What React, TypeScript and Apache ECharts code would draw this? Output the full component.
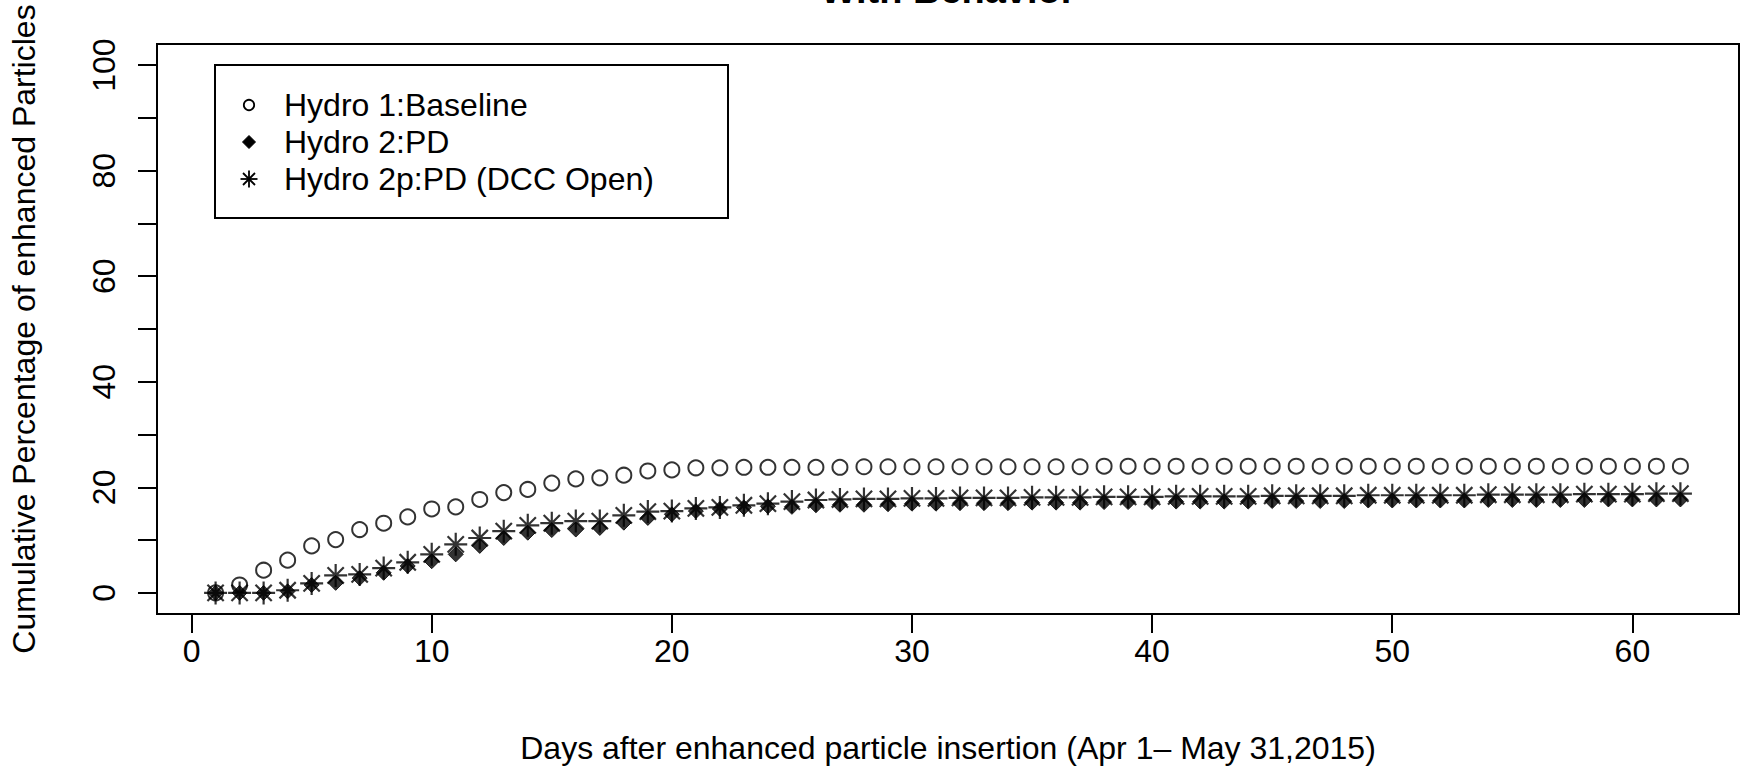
import React, { useEffect, useRef } from "react";
import * as echarts from "echarts";

const days = [
  1, 2, 3, 4, 5, 6, 7, 8, 9, 10, 11, 12, 13, 14, 15, 16, 17, 18, 19, 20, 21,
  22, 23, 24, 25, 26, 27, 28, 29, 30, 31, 32, 33, 34, 35, 36, 37, 38, 39, 40, 41,
  42, 43, 44, 45, 46, 47, 48, 49, 50, 51, 52, 53, 54, 55, 56, 57, 58, 59, 60, 61, 62,
];

const baseline = [
  0, 1.5, 4.3, 6.2, 8.9, 10.1, 12.0, 13.2, 14.4, 15.9,
  16.3, 17.7, 19.0, 19.6, 20.8, 21.6, 21.8, 22.3, 23.1, 23.3,
  23.7, 23.7, 23.8, 23.8, 23.8, 23.8, 23.8, 23.9, 23.9, 23.9,
  23.9, 23.9, 23.9, 23.9, 23.9, 23.9, 23.9, 24.0, 24.0, 24.0,
  24.0, 24.0, 24.0, 24.0, 24.0, 24.0, 24.0, 24.0, 24.0, 24.0,
  24.0, 24.0, 24.0, 24.0, 24.0, 24.0, 24.0, 24.0, 24.0, 24.0,
  24.0, 24.0,
];

const hydro2 = [
  0, 0, 0, 0.3, 1.5, 1.9, 2.8, 3.8, 5.1, 6.0,
  7.3, 8.9, 10.4, 11.4, 11.9, 12.0, 12.3, 13.3, 14.2, 14.9,
  15.5, 15.9, 16.2, 16.4, 16.3, 16.6, 16.7, 16.7, 16.8, 16.9,
  16.9, 17.0, 17.0, 17.0, 17.1, 17.1, 17.1, 17.2, 17.2, 17.2,
  17.3, 17.3, 17.3, 17.3, 17.4, 17.4, 17.4, 17.4, 17.5, 17.5,
  17.5, 17.5, 17.5, 17.6, 17.6, 17.6, 17.6, 17.6, 17.7, 17.7,
  17.7, 17.7,
];

const hydro2p = [
  0, 0, 0, 0.5, 1.8, 3.3, 3.5, 4.7, 5.8, 7.3,
  9.2, 10.4, 11.7, 12.8, 13.2, 13.6, 13.6, 14.7, 15.4, 15.5,
  16.0, 16.2, 16.6, 16.9, 17.3, 17.6, 17.7, 17.8, 17.8, 17.9,
  17.9, 18.0, 18.0, 18.0, 18.1, 18.1, 18.1, 18.2, 18.2, 18.2,
  18.3, 18.3, 18.3, 18.3, 18.4, 18.4, 18.4, 18.4, 18.5, 18.5,
  18.5, 18.5, 18.5, 18.6, 18.6, 18.6, 18.6, 18.7, 18.7, 18.7,
  18.8, 18.8,
];

const xTicks = [0, 10, 20, 30, 40, 50, 60];
const yTicks = [0, 10, 20, 30, 40, 50, 60, 70, 80, 90, 100];
const yLabels = [0, 20, 40, 60, 80, 100];
const seriesNames = ["Hydro 1:Baseline", "Hydro 2:PD", "Hydro 2p:PD (DCC Open)"];
const titleText = "With Behavior";
const xTitle = "Days after enhanced particle insertion (Apr 1\u2013 May 31,2015)";
const yTitle = "Cumulative Percentage of enhanced Particles";

const FONT = "'Liberation Sans', Arial, Helvetica, sans-serif";
const STAR_PATH =
  "path://M0 10 L20 10 M10 0 L10 20 M2.93 2.93 L17.07 17.07 M2.93 17.07 L17.07 2.93";

function pairs(ys: number[]) {
  return days.map((d, i) => [d, ys[i]]);
}

function legendStar(cx: number, cy: number) {
  const p = 8.5;
  const q = 6;
  const st = { stroke: "#000", lineWidth: 1.8 };
  return [
    { type: "line", shape: { x1: cx - p, y1: cy, x2: cx + p, y2: cy }, style: st },
    { type: "line", shape: { x1: cx, y1: cy - p, x2: cx, y2: cy + p }, style: st },
    { type: "line", shape: { x1: cx - q, y1: cy - q, x2: cx + q, y2: cy + q }, style: st },
    { type: "line", shape: { x1: cx - q, y1: cy + q, x2: cx + q, y2: cy - q }, style: st },
  ];
}

export default function App() {
  const ref = useRef<HTMLDivElement>(null);

  useEffect(() => {
    if (!ref.current) return;
    const chart = echarts.init(ref.current, null, { renderer: "svg" });

    const rowY = [105, 142, 179];
    const symX = 249;
    const textX = 284;

    const legendEls: any[] = [
      {
        type: "rect",
        shape: { x: 215, y: 65, width: 513, height: 153 },
        style: { fill: "#fff", stroke: "#000", lineWidth: 2 },
        z: 10,
      },
      {
        type: "circle",
        shape: { cx: symX, cy: rowY[0], r: 5.2 },
        style: { fill: "none", stroke: "#000", lineWidth: 1.8 },
        z: 11,
      },
      {
        type: "polygon",
        shape: {
          points: [
            [symX, rowY[1] - 6.5],
            [symX + 6.5, rowY[1]],
            [symX, rowY[1] + 6.5],
            [symX - 6.5, rowY[1]],
          ],
        },
        style: { fill: "#000", stroke: "#000", lineWidth: 1 },
        z: 11,
      },
      ...legendStar(symX, rowY[2]).map((e) => ({ ...e, z: 11 })),
      ...seriesNames.map((name, i) => ({
        type: "text",
        x: textX,
        y: rowY[i],
        z: 11,
        style: {
          text: name,
          fill: "#000",
          font: `32px ${FONT}`,
          align: "left",
          verticalAlign: "middle",
        },
      })),
    ];

    chart.setOption({
      animation: false,
      backgroundColor: "#fff",
      grid: {
        left: 157,
        top: 44,
        width: 1582,
        height: 570,
        show: true,
        borderColor: "#000",
        borderWidth: 2,
        backgroundColor: "transparent",
        containLabel: false,
        outerBoundsMode: "none",
      },
      xAxis: {
        type: "value",
        min: -1.44,
        max: 64.44,
        axisLine: { show: false, onZero: false },
        splitLine: { show: false },
        axisTick: {
          show: true,
          customValues: xTicks,
          length: 19,
          inside: false,
          lineStyle: { color: "#000", width: 2 },
        },
        axisLabel: {
          show: true,
          customValues: xTicks,
          margin: 21,
          fontSize: 32,
          fontFamily: FONT,
          color: "#000",
        },
      },
      yAxis: {
        type: "value",
        min: -4,
        max: 104,
        axisLine: { show: false, onZero: false },
        splitLine: { show: false },
        axisTick: {
          show: true,
          customValues: yTicks,
          length: 19,
          inside: false,
          lineStyle: { color: "#000", width: 2 },
        },
        axisLabel: {
          show: true,
          customValues: yLabels,
          rotate: 90,
          margin: 37,
          fontSize: 32,
          fontFamily: FONT,
          color: "#000",
        },
      },
      series: [
        {
          name: seriesNames[0],
          type: "scatter",
          data: pairs(baseline),
          symbol: "circle",
          symbolSize: 15,
          itemStyle: { color: "transparent", borderColor: "#000", borderWidth: 2 },
          z: 2,
        },
        {
          name: seriesNames[1],
          type: "scatter",
          data: pairs(hydro2),
          symbol: "diamond",
          symbolSize: 15,
          itemStyle: { color: "#000", borderColor: "#000", borderWidth: 1 },
          z: 3,
        },
        {
          name: seriesNames[2],
          type: "scatter",
          data: pairs(hydro2p),
          symbol: STAR_PATH,
          symbolSize: 23,
          itemStyle: { color: "transparent", borderColor: "#000", borderWidth: 2.2 },
          z: 4,
        },
      ],
      graphic: [
        {
          type: "text",
          x: 948,
          y: -10.5,
          style: {
            text: titleText,
            fill: "#000",
            font: `bold 38px ${FONT}`,
            align: "center",
            verticalAlign: "middle",
          },
        },
        {
          type: "text",
          x: 948,
          y: 748,
          style: {
            text: xTitle,
            fill: "#000",
            font: `32px ${FONT}`,
            align: "center",
            verticalAlign: "middle",
          },
        },
        {
          type: "text",
          x: 24,
          y: 329,
          rotation: Math.PI / 2,
          style: {
            text: yTitle,
            fill: "#000",
            font: `32px ${FONT}`,
            align: "center",
            verticalAlign: "middle",
          },
        },
        ...legendEls,
      ],
    });

    return () => {
      chart.dispose();
    };
  }, []);

  return (
    <div
      ref={ref}
      style={{ position: "fixed", left: 0, top: 0, width: 1750, height: 771, background: "#fff" }}
    />
  );
}
